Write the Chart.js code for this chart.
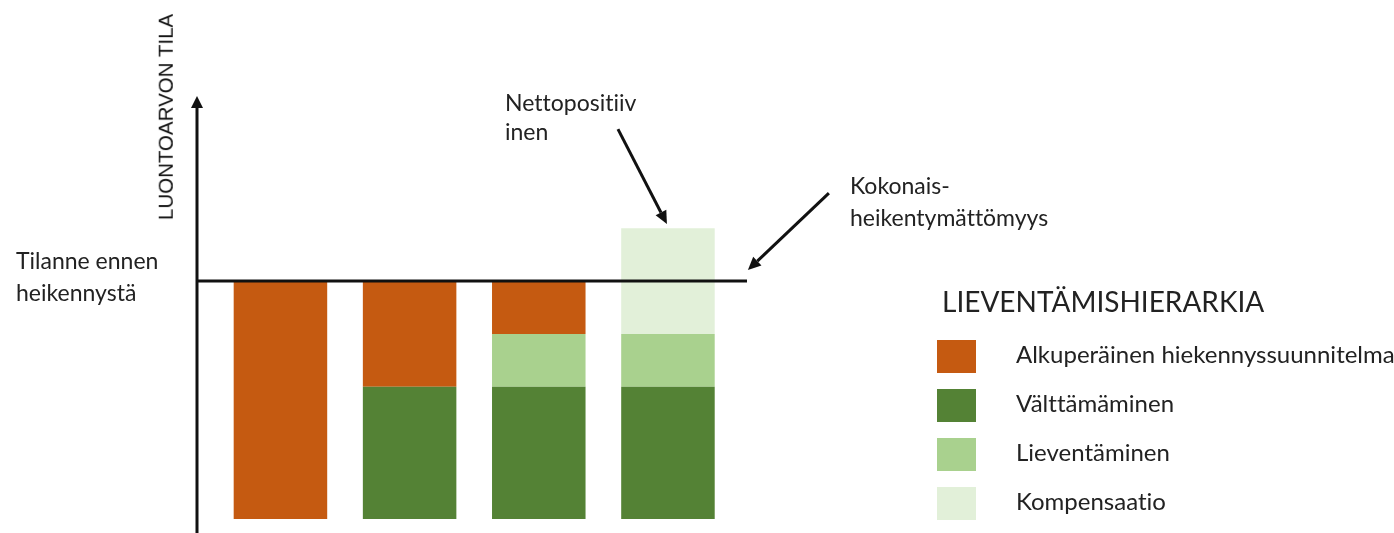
<!DOCTYPE html>
<html>
<head>
<meta charset="utf-8">
<script src="https://cdn.jsdelivr.net/npm/chart.js@4"></script>
<style>
  html, body { margin: 0; padding: 0; background: #fff; }
  #wrap { position: relative; width: 1394px; height: 533px; overflow: hidden; }
  canvas { position: absolute; left: 0; top: 0; }
  .t { position: absolute; font-family: Lato, "Open Sans", sans-serif; color: #222; white-space: nowrap;
       font-variant-ligatures: none; font-feature-settings: "liga" 0, "clig" 0; }
  .ylab { position: absolute; font-family: "Liberation Sans", Arial, sans-serif; font-size: 20.5px; color: #111;
          white-space: nowrap; transform: translate(-50%, -50%) rotate(-90deg); line-height: 1; }
  .box { position: absolute; width: 39px; height: 33px; }
</style>
</head>
<body>
<div id="wrap">
  <canvas id="c" width="1394" height="533"></canvas>
</div>
<script>
// ---- data ----
const categories = ['1', '2', '3', '4'];
const xPositions = [1, 2, 3, 4];
const valttamaminen = [null, 2.5, 2.5, 2.5];
const lieventaminen = [null, null, 1, 1];
const alkuperainen = [4.5, 2, 1, null];
const kompensaatio = [null, null, null, 2];
const baselineLevel = 4.5;

const seriesNames = ['Välttämäminen', 'Lieventäminen', 'Alkuperäinen hiekennyssuunnitelma', 'Kompensaatio'];
const seriesColors = ['#548235', '#A9D18E', '#C55A11', '#E2F0D9'];
const legendOrder = ['Alkuperäinen hiekennyssuunnitelma', 'Välttämäminen', 'Lieventäminen', 'Kompensaatio'];
const legendTitle = 'LIEVENTÄMISHIERARKIA';
const axisTitle = 'LUONTOARVON TILA';
const baselineText = ['Tilanne ennen', 'heikennystä'];
const netText = ['Nettopositiiv', 'inen'];
const nnlText = ['Kokonais-', 'heikentymättömyys'];

// annotation arrows in data coordinates [fromX, fromY, toX, toY]
const arrowNet = [3.613, 7.374, 3.992, 5.578];
const arrowNnl = [5.246, 6.164, 4.619, 4.708];

const seriesValues = [valttamaminen, lieventaminen, alkuperainen, kompensaatio];
const datasets = seriesNames.map((name, i) => ({
  label: name,
  data: xPositions.map((x, j) => ({ x: x, y: seriesValues[i][j] })),
  backgroundColor: seriesColors[i],
  borderWidth: 0,
  barPercentage: 0.724,
  categoryPercentage: 1.0
}));

function arrow(ctx, x1, y1, x2, y2, head, half, lw) {
  const ang = Math.atan2(y2 - y1, x2 - x1);
  const bx = x2 - head * Math.cos(ang), by = y2 - head * Math.sin(ang);
  ctx.beginPath();
  ctx.moveTo(x1, y1); ctx.lineTo(bx, by);
  ctx.lineWidth = lw; ctx.strokeStyle = '#111'; ctx.stroke();
  ctx.beginPath();
  ctx.moveTo(x2, y2);
  ctx.lineTo(bx + half * Math.sin(ang), by - half * Math.cos(ang));
  ctx.lineTo(bx - half * Math.sin(ang), by + half * Math.cos(ang));
  ctx.closePath(); ctx.fillStyle = '#111'; ctx.fill();
}

const decor = {
  id: 'decor',
  afterDatasetsDraw(chart) {
    const ctx = chart.ctx, a = chart.chartArea, xs = chart.scales.x, ys = chart.scales.y;
    ctx.save();
    // baseline
    const yb = ys.getPixelForValue(baselineLevel);
    ctx.beginPath(); ctx.moveTo(a.left, yb); ctx.lineTo(a.right, yb);
    ctx.lineWidth = 3; ctx.strokeStyle = '#111'; ctx.stroke();
    // y axis with arrow
    arrow(ctx, a.left, a.bottom, a.left, ys.getPixelForValue(ys.max), 12, 6, 3);
    // annotation arrows
    [arrowNet, arrowNnl].forEach(p => {
      arrow(ctx, xs.getPixelForValue(p[0]), ys.getPixelForValue(p[1]),
                 xs.getPixelForValue(p[2]), ys.getPixelForValue(p[3]), 13, 6, 3);
    });
    ctx.restore();
  }
};

new Chart(document.getElementById('c'), {
  type: 'bar',
  data: { labels: categories, datasets: datasets },
  options: {
    responsive: false,
    animation: false,
    devicePixelRatio: 1,
    layout: { padding: { left: 197, right: 647, top: 96, bottom: 0 } },
    plugins: { legend: { display: false }, tooltip: { enabled: false } },
    scales: {
      x: { type: 'linear', min: 0.354, max: 4.612, stacked: true, display: false, offset: false,
           grid: { offset: false }, ticks: { stepSize: 1, includeBounds: false } },
      y: { min: -0.265, max: 8, stacked: true, display: false }
    }
  },
  plugins: [decor]
});

// ---- text (HTML) ----
const wrap = document.getElementById('wrap');
function addText(txt, left, baseline, size) {
  const d = document.createElement('div');
  d.className = 't';
  d.textContent = txt;
  d.style.fontSize = size + 'px';
  d.style.lineHeight = (size * 1.2) + 'px';
  d.style.left = left + 'px';
  d.style.top = (baseline - size * 0.987) + 'px';
  wrap.appendChild(d);
  return d;
}
const yl = document.createElement('div');
yl.className = 'ylab'; yl.textContent = axisTitle;
yl.style.left = '166px'; yl.style.top = '117px';
wrap.appendChild(yl);

addText(baselineText[0], 16, 270, 23);
addText(baselineText[1], 16, 302, 23);
addText(netText[0], 505, 112, 23);
addText(netText[1], 505, 141, 23);
addText(nnlText[0], 850, 195, 23);
addText(nnlText[1], 850, 227, 23);
addText(legendTitle, 942, 313, 28);

legendOrder.forEach((name, i) => {
  const idx = seriesNames.indexOf(name);
  const top = 340 + i * 49;
  const b = document.createElement('div');
  b.className = 'box';
  b.style.left = '937px'; b.style.top = top + 'px';
  b.style.background = seriesColors[idx];
  wrap.appendChild(b);
  addText(name, 1016, top + 24, 24);
});
</script>
</body>
</html>
